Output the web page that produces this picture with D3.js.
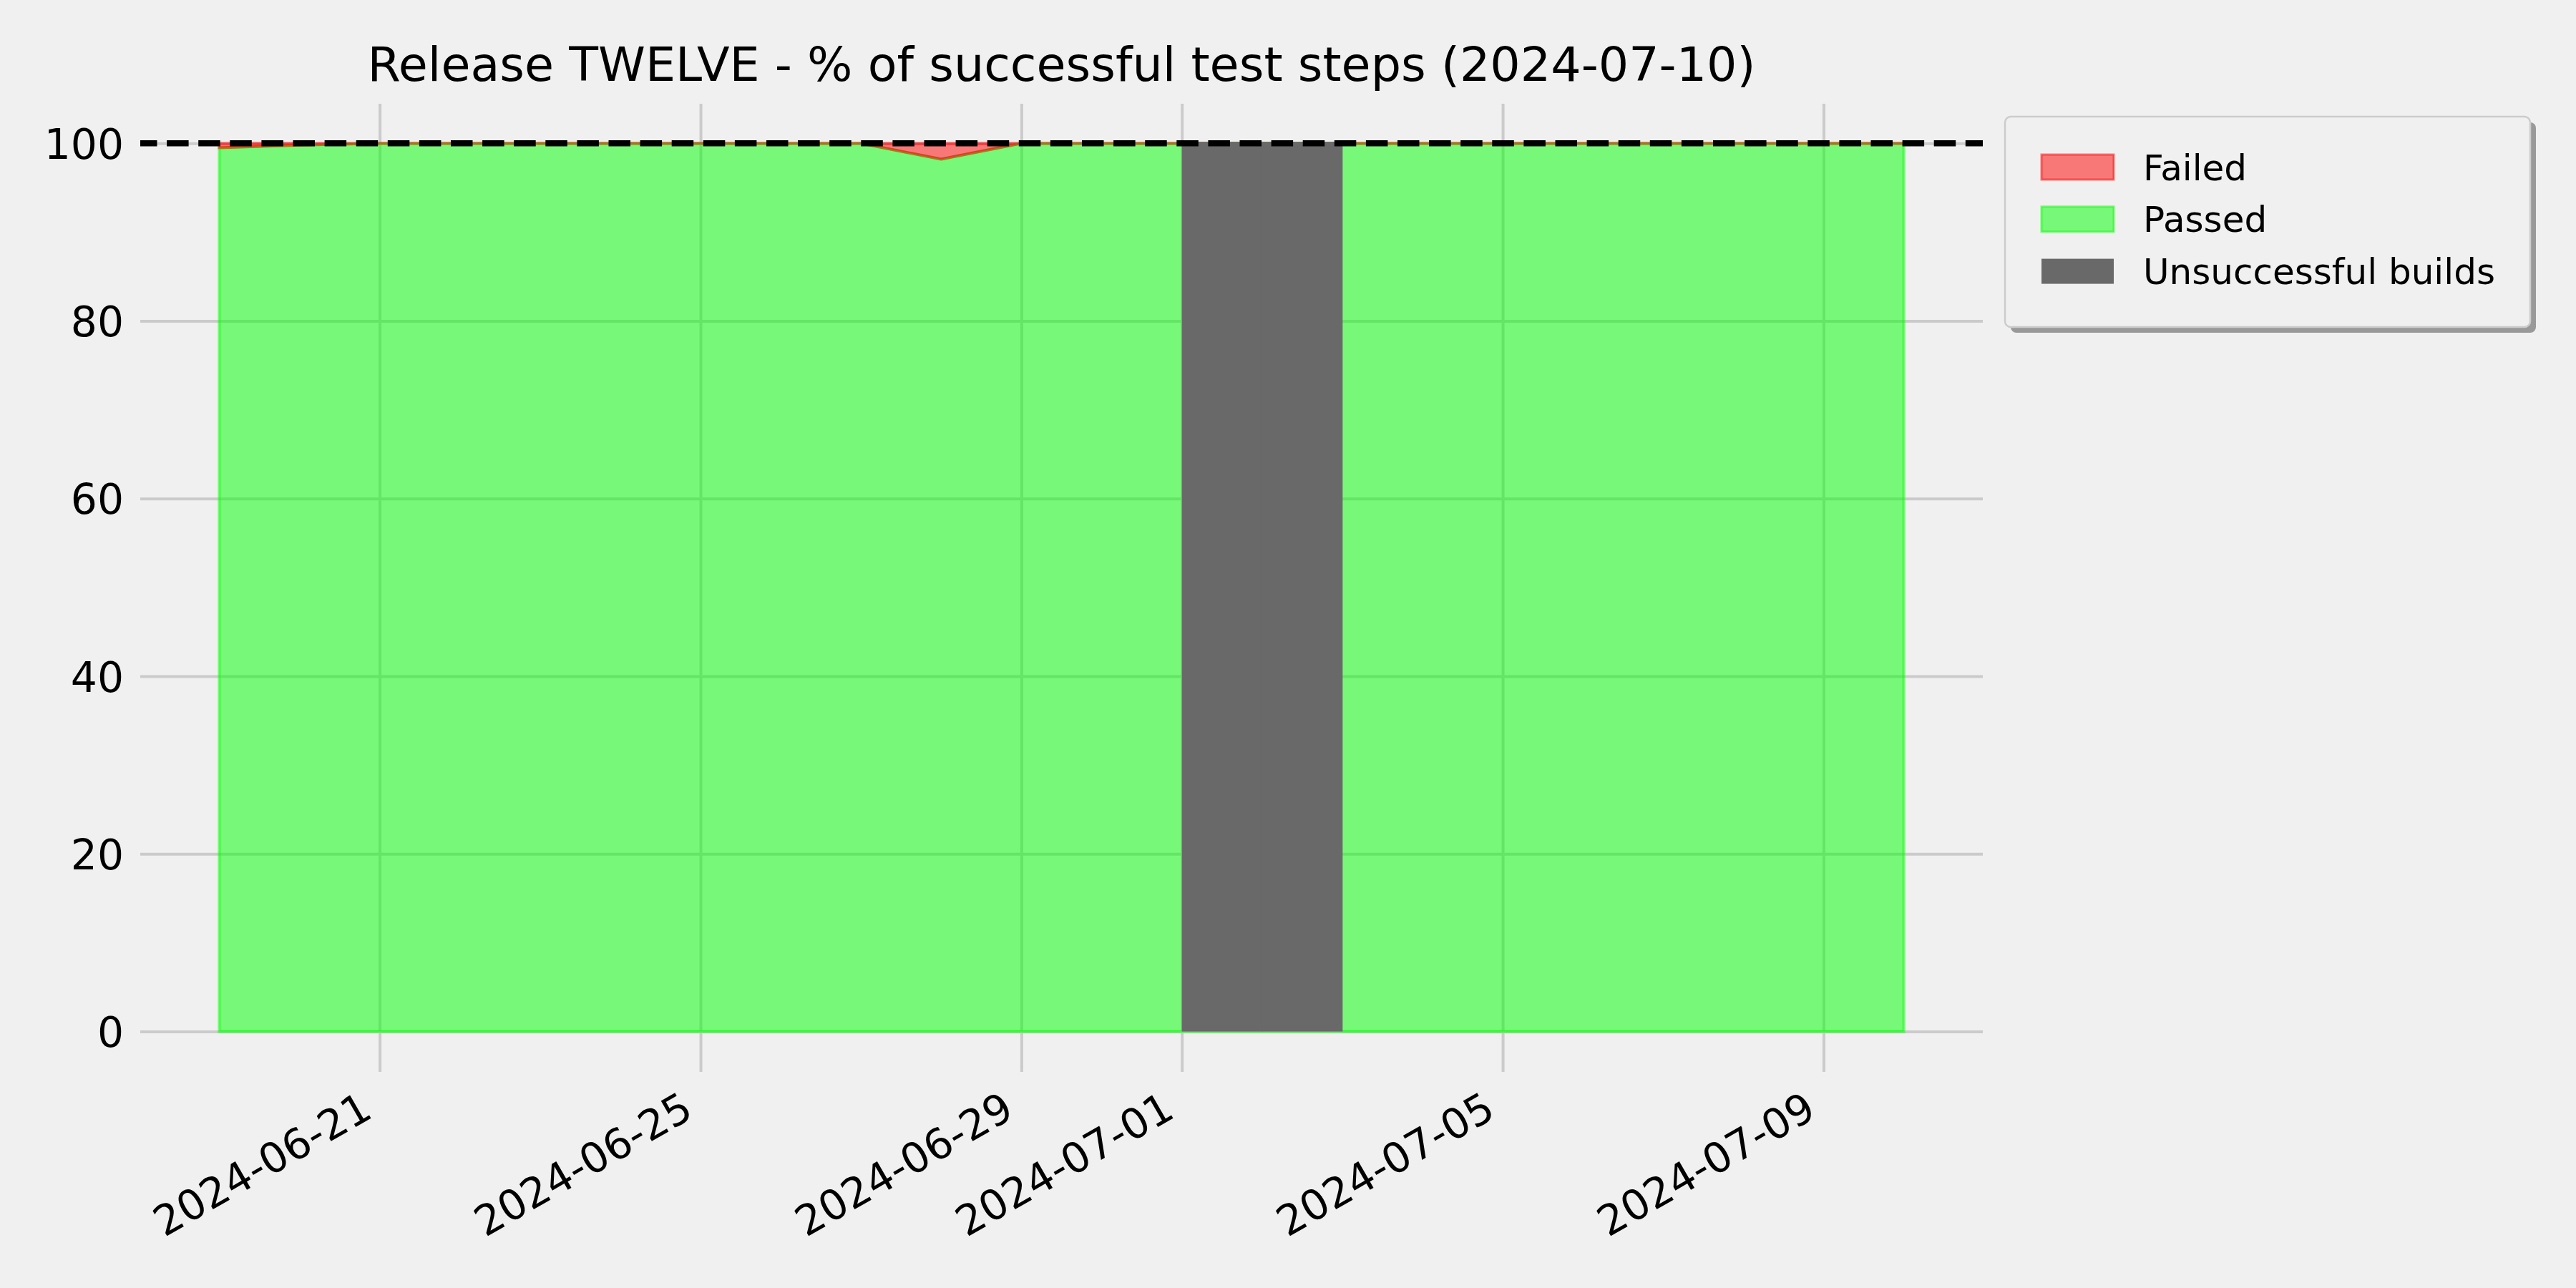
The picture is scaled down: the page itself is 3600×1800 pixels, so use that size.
<!DOCTYPE html>
<html>
<head>
<meta charset="utf-8">
<script src="https://cdn.jsdelivr.net/npm/d3@7"></script>
<style>
  html, body { margin: 0; padding: 0; background: #f0f0f0; }
  svg { display: block; }
  text { font-family: "DejaVu Sans", sans-serif; fill: #000; }
</style>
</head>
<body>
<svg id="chart" width="3600" height="1800"></svg>
<script>
// ---------------- data ----------------
const dates = [
  "2024-06-19","2024-06-20","2024-06-21","2024-06-22","2024-06-23","2024-06-24",
  "2024-06-25","2024-06-26","2024-06-27","2024-06-28","2024-06-29","2024-06-30",
  "2024-07-01","2024-07-02","2024-07-03","2024-07-04","2024-07-05","2024-07-06",
  "2024-07-07","2024-07-08","2024-07-09","2024-07-10"
];
const passedPct = [
  99.5, 99.8, 100, 100, 100, 100,
  100, 100, 100, 98.2, 100, 100,
  100, 100, 100, 100, 100, 100,
  100, 100, 100, 100
];
const failedPct = [
  0.5, 0.2, 0, 0, 0, 0,
  0, 0, 0, 1.8, 0, 0,
  0, 0, 0, 0, 0, 0,
  0, 0, 0, 0
];
const unsuccessfulBuildDates = ["2024-07-01", "2024-07-02"];
const unsuccessfulHeight = 100;
const targetLine = 100;
const yTicks = [0, 20, 40, 60, 80, 100];
const xTickLabels = ["2024-06-21","2024-06-25","2024-06-29","2024-07-01","2024-07-05","2024-07-09"];
const legendLabels = ["Failed", "Passed", "Unsuccessful builds"];
const titleText = "Release TWELVE - % of successful test steps (2024-07-10)";

// ---------------- layout ----------------
const W = 3600, H = 1800;
const plot = { left: 196, right: 2771, top: 145, bottom: 1498 };
const parse = d3.utcParse("%Y-%m-%d");
const DAY = 86400000;
const marginDays = 0.985;

const rows = dates.map((d, i) => ({ date: parse(d), passed: passedPct[i], failed: failedPct[i] }));

const x = d3.scaleUtc()
  .domain([new Date(+parse(dates[0]) - marginDays * DAY), new Date(+parse(dates[dates.length - 1]) + marginDays * DAY)])
  .range([plot.left, plot.right]);
const y = d3.scaleLinear().domain([-4.55, 104.45]).range([plot.bottom, plot.top]);

const svg = d3.select("#chart");
svg.append("rect").attr("width", W).attr("height", H).attr("fill", "#f0f0f0");

// y grid + labels
const yAxis = svg.append("g")
  .attr("transform", `translate(${plot.left},0)`)
  .call(d3.axisLeft(y).tickValues(yTicks).tickFormat(d3.format("d"))
    .tickSize(-(plot.right - plot.left)).tickPadding(23));
yAxis.select(".domain").remove();
yAxis.selectAll(".tick line").attr("stroke", "#cbcbcb").attr("stroke-width", 4);
yAxis.selectAll(".tick text").attr("font-size", 58.3).attr("dy", "0.36em")
  .attr("font-family", "DejaVu Sans");

// x grid + labels
const xAxis = svg.append("g")
  .attr("transform", `translate(0,${plot.bottom})`)
  .call(d3.axisBottom(x).tickValues(xTickLabels.map(parse)).tickFormat(d3.utcFormat("%Y-%m-%d"))
    .tickSize(-(plot.bottom - plot.top)));
xAxis.select(".domain").remove();
xAxis.selectAll(".tick line").attr("stroke", "#cbcbcb").attr("stroke-width", 4);
xAxis.selectAll(".tick text")
  .attr("font-size", 58.3).attr("font-family", "DejaVu Sans")
  .attr("y", 0).attr("dy", null).attr("text-anchor", "end")
  .attr("transform", "translate(-8,62) rotate(-30)");

// passed area
const areaPassed = d3.area()
  .x(d => x(d.date)).y0(() => y(0)).y1(d => y(d.passed));
svg.append("path").datum(rows).attr("d", areaPassed)
  .attr("fill", "lime").attr("fill-opacity", 0.5)
  .attr("stroke", "lime").attr("stroke-opacity", 0.5).attr("stroke-width", 4);

// failed area (stacked on passed)
const areaFailed = d3.area()
  .x(d => x(d.date)).y0(d => y(d.passed)).y1(d => y(d.passed + d.failed));
svg.append("path").datum(rows).attr("d", areaFailed)
  .attr("fill", "red").attr("fill-opacity", 0.5)
  .attr("stroke", "red").attr("stroke-opacity", 0.5).attr("stroke-width", 4);

// unsuccessful builds
svg.append("g").selectAll("rect").data(unsuccessfulBuildDates.map(parse)).join("rect")
  .attr("x", d => x(d))
  .attr("width", d => x(new Date(+d + DAY)) - x(d) + 0.5)
  .attr("y", y(unsuccessfulHeight) - 2)
  .attr("height", y(0) - y(unsuccessfulHeight) + 2)
  .attr("fill", "#696969");

// target dashed line
svg.append("line")
  .attr("x1", plot.left).attr("x2", plot.right)
  .attr("y1", y(targetLine)).attr("y2", y(targetLine))
  .attr("stroke", "#000").attr("stroke-width", 8.33)
  .attr("stroke-dasharray", "30.5,13.6").attr("stroke-dashoffset", 7);

// title
svg.append("text")
  .attr("x", (plot.left + plot.right) / 2).attr("y", 112.7)
  .attr("text-anchor", "middle").attr("font-size", 66.7)
  .text(titleText);

// legend
const lg = { x: 2802, y: 163, w: 734, h: 294 };
const legend = svg.append("g");
legend.append("rect").attr("x", lg.x + 8).attr("y", lg.y + 8).attr("width", lg.w).attr("height", lg.h)
  .attr("rx", 8).attr("fill", "#999999");
legend.append("rect").attr("x", lg.x).attr("y", lg.y).attr("width", lg.w).attr("height", lg.h)
  .attr("rx", 8).attr("fill", "#f0f0f0").attr("stroke", "#cccccc").attr("stroke-width", 2.5);
const legendStyles = [
  { fill: "red", fo: 0.5, stroke: "red", so: 0.5 },
  { fill: "lime", fo: 0.5, stroke: "lime", so: 0.5 },
  { fill: "#696969", fo: 1, stroke: "none", so: 0 }
];
const items = legend.selectAll("g.item").data(legendLabels).join("g")
  .attr("class", "item")
  .attr("transform", (d, i) => `translate(0,${233.5 + i * 72.8})`);
items.append("rect")
  .attr("x", 2853).attr("y", -17.5).attr("width", 101).attr("height", 35)
  .attr("fill", (d, i) => legendStyles[i].fill).attr("fill-opacity", (d, i) => legendStyles[i].fo)
  .attr("stroke", (d, i) => legendStyles[i].stroke).attr("stroke-opacity", (d, i) => legendStyles[i].so)
  .attr("stroke-width", 3);
items.append("text")
  .attr("x", 2995).attr("dy", "0.36em").attr("font-size", 50)
  .text(d => d);
</script>
</body>
</html>
